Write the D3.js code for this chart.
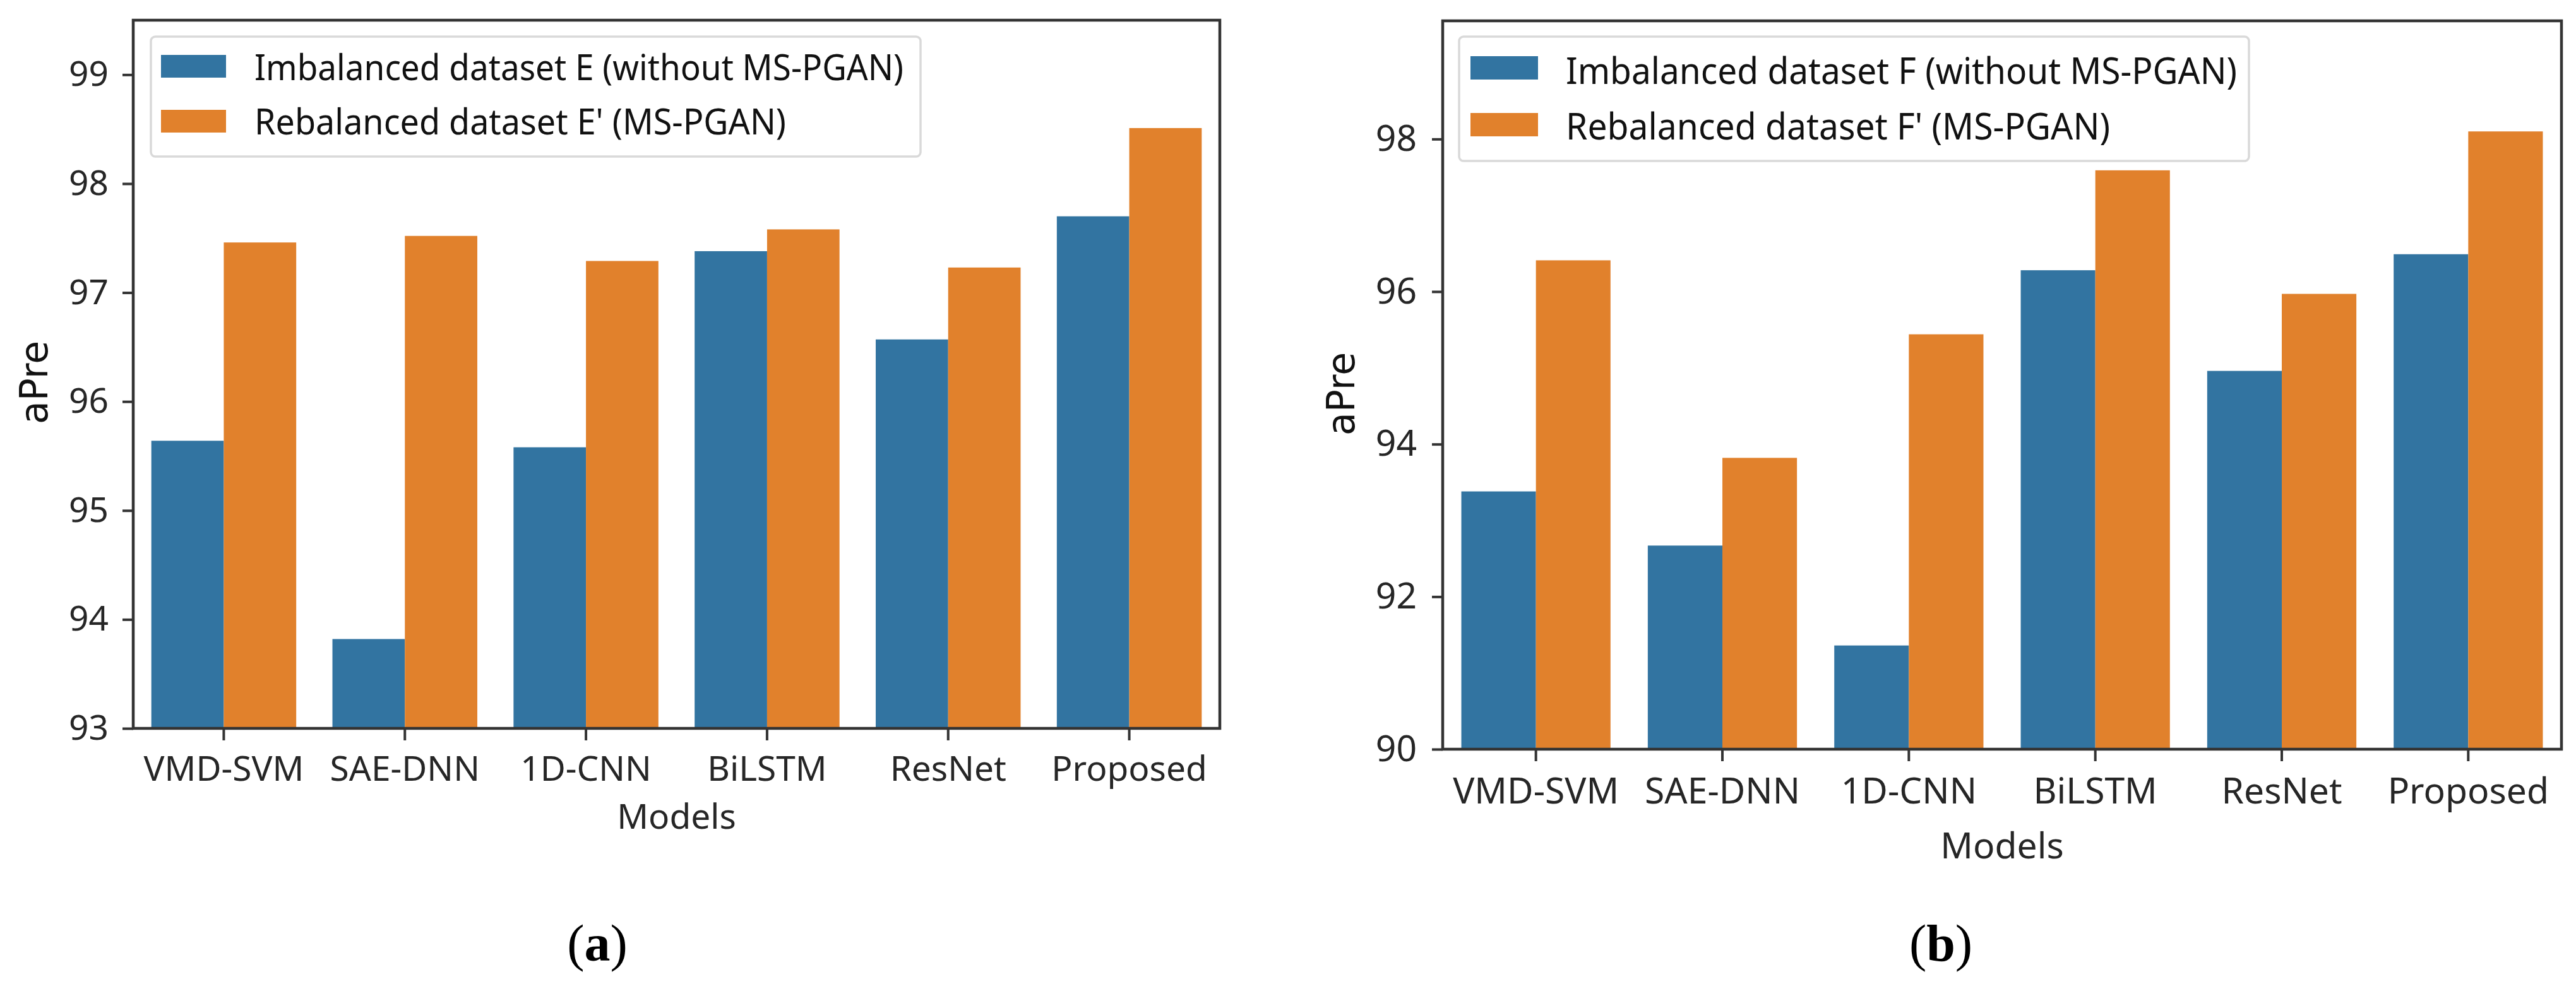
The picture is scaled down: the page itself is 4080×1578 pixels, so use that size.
<!DOCTYPE html>
<html>
<head>
<meta charset="utf-8">
<script src="https://cdn.jsdelivr.net/npm/d3@7"></script>
<style>
  html, body { margin: 0; padding: 0; background: #ffffff; }
  svg { display: block; }
</style>
</head>
<body>
<svg id="chart" width="4080" height="1578"></svg>
<script>
// ---------------- data ----------------
const models = ["VMD-SVM", "SAE-DNN", "1D-CNN", "BiLSTM", "ResNet", "Proposed"];

const imbalancedE = [95.64, 93.82, 95.58, 97.38, 96.57, 97.70];
const rebalancedE = [97.46, 97.52, 97.29, 97.58, 97.23, 98.51];

const imbalancedF = [93.38, 92.67, 91.36, 96.28, 94.96, 96.49];
const rebalancedF = [96.41, 93.82, 95.44, 97.59, 95.97, 98.10];

const yTicksA = [93, 94, 95, 96, 97, 98, 99];
const yTicksB = [90, 92, 94, 96, 98];

const yDomainA = [93, 99.5];
const yDomainB = [90, 99.55];

const legendA = ["Imbalanced dataset E (without MS-PGAN)", "Rebalanced dataset E' (MS-PGAN)"];
const legendB = ["Imbalanced dataset F (without MS-PGAN)", "Rebalanced dataset F' (MS-PGAN)"];

const seriesKeys = ["imbalanced", "rebalanced"];
const colors = ["#3274a1", "#e1812c"];

const xLabel = "Models";
const yLabel = "aPre";

// ---------------- drawing ----------------
const svg = d3.select("#chart");
const SANS = "'Noto Sans', 'Open Sans', sans-serif";

function drawPanel(cfg) {
  const g = svg.append("g");
  const { left, right, top, bottom } = cfg.box;

  const x = d3.scaleBand().domain(models).range([left, right])
    .paddingInner(0.2).paddingOuter(0.1);
  const xs = d3.scaleBand().domain(seriesKeys).range([0, x.bandwidth()]).padding(0);
  const y = d3.scaleLinear().domain(cfg.yDomain).range([bottom, top]);

  const rows = models.map((m, i) => ({ model: m, values: [cfg.s1[i], cfg.s2[i]] }));

  // bars
  const grp = g.append("g").selectAll("g").data(rows).join("g")
    .attr("transform", d => `translate(${x(d.model)},0)`);
  grp.selectAll("rect").data(d => d.values.map((v, k) => ({ key: seriesKeys[k], v, k })))
    .join("rect")
    .attr("x", d => xs(d.key))
    .attr("width", xs.bandwidth())
    .attr("y", d => y(d.v))
    .attr("height", d => y(cfg.yDomain[0]) - y(d.v))
    .attr("fill", d => colors[d.k]);

  // y axis
  const yAxis = d3.axisLeft(y).tickValues(cfg.yTicks).tickSize(17).tickPadding(cfg.yPad)
    .tickFormat(d3.format("d"));
  const ya = g.append("g").attr("transform", `translate(${left},0)`).call(yAxis);
  ya.select(".domain").remove();
  ya.selectAll(".tick line").attr("stroke", "#333").attr("stroke-width", 4);
  ya.selectAll(".tick text").attr("fill", "#262626").style("font-family", SANS)
    .style("font-size", cfg.font + "px");

  // x axis
  const xAxis = d3.axisBottom(x).tickSize(19).tickPadding(cfg.xPad);
  const xa = g.append("g").attr("transform", `translate(0,${bottom})`).call(xAxis);
  xa.select(".domain").remove();
  xa.selectAll(".tick line").attr("stroke", "#333").attr("stroke-width", 4);
  xa.selectAll(".tick text").attr("fill", "#262626").style("font-family", SANS)
    .style("font-size", cfg.font + "px");

  // frame (all spines)
  g.append("rect")
    .attr("x", left).attr("y", top)
    .attr("width", right - left).attr("height", bottom - top)
    .attr("fill", "none").attr("stroke", "#333").attr("stroke-width", 4.5);

  // axis labels
  g.append("text")
    .attr("x", (left + right) / 2).attr("y", cfg.xLabelY)
    .attr("text-anchor", "middle").attr("fill", "#262626")
    .style("font-family", SANS).style("font-size", cfg.font + "px")
    .text(xLabel);

  g.append("text")
    .attr("transform", `translate(${cfg.yLabelX},${cfg.yLabelY}) rotate(-90)`)
    .attr("text-anchor", "middle").attr("fill", "#111")
    .style("font-family", "'DejaVu Sans', sans-serif").style("font-size", "60px")
    .text(yLabel);

  // legend
  const L = cfg.legend;
  const lg = g.append("g");
  lg.append("rect")
    .attr("x", L.x0).attr("y", L.y0)
    .attr("width", L.x1 - L.x0).attr("height", L.y1 - L.y0)
    .attr("rx", 7).attr("ry", 7)
    .attr("fill", "#ffffff").attr("fill-opacity", 0.85)
    .attr("stroke", "#d9d9d9").attr("stroke-width", 3.5);
  cfg.legendLabels.forEach((lab, k) => {
    lg.append("rect")
      .attr("x", L.px).attr("y", L.py[k])
      .attr("width", L.pw).attr("height", L.ph)
      .attr("fill", colors[k]);
    lg.append("text")
      .attr("x", L.tx).attr("y", L.ty[k])
      .attr("fill", "#111")
      .style("font-family", SANS).style("font-size", cfg.legendFont + "px")
      .attr("textLength", L.tw[k]).attr("lengthAdjust", "spacingAndGlyphs")
      .text(lab);
  });

  // caption
  const cap = svg.append("text")
    .attr("x", cfg.capX).attr("y", 1522)
    .attr("text-anchor", "middle").attr("fill", "#000")
    .style("font-family", "'Liberation Serif', 'DejaVu Serif', serif")
    .style("font-size", "82px");
  cap.append("tspan").text("(");
  cap.append("tspan").style("font-weight", "bold").text(cfg.capLetter);
  cap.append("tspan").text(")");
}

drawPanel({
  box: { left: 211, right: 1932, top: 32, bottom: 1154 },
  yDomain: yDomainA, yTicks: yTicksA,
  s1: imbalancedE, s2: rebalancedE,
  font: 55, legendFont: 57, yPad: 22, xPad: 25,
  xLabelY: 1313, yLabelX: 75, yLabelY: 606,
  legendLabels: legendA,
  legend: { x0: 239, y0: 58, x1: 1458, y1: 248, px: 255, pw: 103, ph: 36, py: [87, 174],
            tx: 403, ty: [127, 213], tw: [1028, 842] },
  capX: 946, capLetter: "a"
});

drawPanel({
  box: { left: 2285, right: 4057, top: 33, bottom: 1187 },
  yDomain: yDomainB, yTicks: yTicksB,
  s1: imbalancedF, s2: rebalancedF,
  font: 57, legendFont: 59, yPad: 24, xPad: 27,
  xLabelY: 1360, yLabelX: 2145, yLabelY: 624,
  legendLabels: legendB,
  legend: { x0: 2311, y0: 58, x1: 3562, y1: 255, px: 2329, pw: 107, ph: 37, py: [89, 179],
            tx: 2480, ty: [133, 221], tw: [1063, 862] },
  capX: 3074, capLetter: "b"
});
</script>
</body>
</html>
